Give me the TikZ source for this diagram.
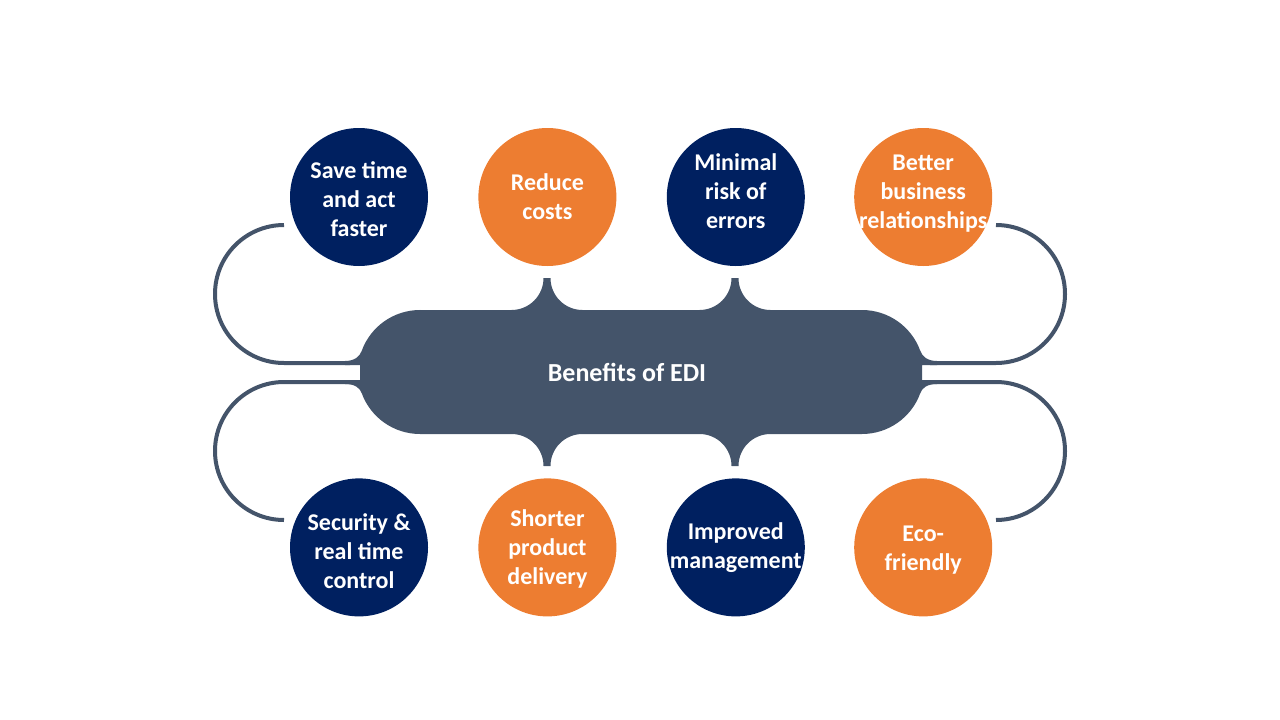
\documentclass[tikz,border=0pt]{standalone}
\usepackage{fontspec}
\setmainfont{Carlito}
\usetikzlibrary{positioning}

\definecolor{ediNavy}{HTML}{002060}
\definecolor{ediOrange}{HTML}{ED7D31}
\definecolor{ediSlate}{HTML}{44546A}

\tikzset{
  bubble/.style={circle, fill=#1, minimum size=138pt, inner sep=0pt},
  bubbletext/.style={text=white, font=\bfseries\fontsize{24}{29}\selectfont, align=center},
  tether/.style={draw=ediSlate, line width=4pt},
}

\begin{document}
\begin{tikzpicture}[x=1pt, y=-1pt]
  \useasboundingbox (0,0) rectangle (1280,720);

  % Bulles du haut
  \node[bubble=ediNavy, label={[bubbletext, yshift=-2pt]center:Save time\\and act\\faster}] (save) at (359,197) {};
  \node[bubble=ediOrange, right=50pt of save, label={[bubbletext]center:Reduce\\costs}] (costs) {};
  \node[bubble=ediNavy, right=50pt of costs, label={[bubbletext, yshift=6pt]center:Minimal\\risk of\\errors}] (errors) {};
  \node[bubble=ediOrange, right=49pt of errors, label={[bubbletext, yshift=3pt]center:Better\\business\\relationships}] (relations) {};

  % Bulles du bas
  \node[bubble=ediNavy, below=212pt of save, label={[bubbletext, yshift=-4pt]center:Security \&\\real time\\control}] (security) {};
  \node[bubble=ediOrange, right=50pt of security, label={[bubbletext, yshift=-2pt]center:Shorter\\product\\delivery}] (delivery) {};
  \node[bubble=ediNavy, right=50pt of delivery, label={[bubbletext]center:Improved\\management}] (management) {};
  \node[bubble=ediOrange, right=49pt of management, label={[bubbletext, yshift=-3pt]center:Eco-\\friendly}] (eco) {};

  % Forme centrale
  \fill[ediSlate] (420,310) -- (511.5,310) arc[start angle=90, end angle=0, radius=32]
    -- (550.5,278) arc[start angle=180, end angle=90, radius=32]
    -- (699.5,310) arc[start angle=90, end angle=0, radius=32]
    -- (738.5,278) arc[start angle=180, end angle=90, radius=32]
    -- (862,310) arc[start angle=270, end angle=340, radius=62]
    .. controls (922,356) and (927,361) .. (937,361) -- (937,365) -- (922,365)
    -- (922,380) -- (937,380) -- (937,384)
    .. controls (927,384) and (922,388) .. (920.26,393.21)
    arc[start angle=20, end angle=90, radius=62]
    -- (770.5,434) arc[start angle=270, end angle=180, radius=32]
    -- (731.5,466) arc[start angle=0, end angle=-90, radius=32]
    -- (582.5,434) arc[start angle=270, end angle=180, radius=32]
    -- (543.5,466) arc[start angle=0, end angle=-90, radius=32]
    -- (420,434) arc[start angle=90, end angle=160, radius=62]
    .. controls (360,388) and (355,384) .. (345,384) -- (345,380) -- (360,380)
    -- (360,365) -- (345,365) -- (345,361)
    .. controls (355,361) and (360,356) .. (361.74,350.79)
    arc[start angle=200, end angle=270, radius=62] -- cycle;
  \node[text=white, font=\bfseries\fontsize{26}{31}\selectfont] (edi) at (627,372) {Benefits of EDI};

  % Boucles
  \coordinate (saveTail) at (284,225);
  \coordinate (securityTail) at (284,520);
  \coordinate (relationsTail) at (996,225);
  \coordinate (ecoTail) at (996,520);
  \coordinate (neckUL) at (350,363);
  \coordinate (neckLL) at (350,382);
  \coordinate (neckUR) at (930,363);
  \coordinate (neckLR) at (930,382);
  \draw[tether] (saveTail) arc[start angle=270, end angle=90, radius=69] -- (neckUL);
  \draw[tether] (neckLL) -- (284,382) arc[start angle=270, end angle=90, radius=69] -- (securityTail);
  \draw[tether] (relationsTail) arc[start angle=270, end angle=450, radius=69] -- (neckUR);
  \draw[tether] (neckLR) -- (996,382) arc[start angle=270, end angle=450, radius=69] -- (ecoTail);
\end{tikzpicture}
\end{document}
